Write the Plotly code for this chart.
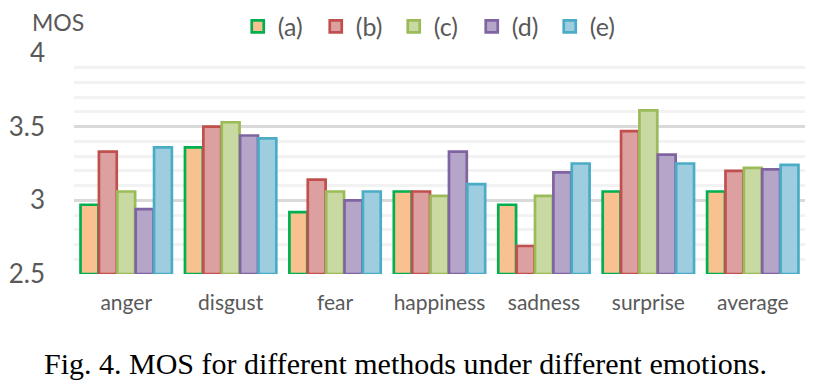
import plotly.graph_objects as go

categories = ["anger", "disgust", "fear", "happiness", "sadness", "surprise", "average"]
series_names = ["(a)", "(b)", "(c)", "(d)", "(e)"]
vals_a = [2.97, 3.36, 2.92, 3.06, 2.97, 3.06, 3.06]
vals_b = [3.33, 3.50, 3.14, 3.06, 2.69, 3.47, 3.20]
vals_c = [3.06, 3.53, 3.06, 3.03, 3.03, 3.61, 3.22]
vals_d = [2.94, 3.44, 3.00, 3.33, 3.19, 3.31, 3.21]
vals_e = [3.36, 3.42, 3.06, 3.11, 3.25, 3.25, 3.24]
y_ticks = [2.5, 3, 3.5, 4]
y_tick_labels = ["2.5", "3", "3.5", "4"]
baseline = 2.5

fills = ["#F9C18F", "#DCA0A0", "#C8D9A2", "#B4A5C9", "#9FCDE0"]
borders = ["#00B050", "#C0504D", "#9BBB59", "#8064A2", "#4BACC6"]

fig = go.Figure()
for name, vals, fc, bc in zip(series_names, [vals_a, vals_b, vals_c, vals_d, vals_e], fills, borders):
    fig.add_trace(go.Bar(
        x=categories, y=[v - baseline for v in vals], name=name, base=baseline,
        customdata=vals, hovertemplate="%{x}: %{customdata}<extra>" + name + "</extra>",
        marker=dict(color=fc, line=dict(color=bc, width=2.7)),
    ))

grey = "#595959"
fig.update_layout(
    width=819, height=391,
    margin=dict(l=66, r=22, t=45, b=125, autoexpand=False),
    plot_bgcolor="white", paper_bgcolor="white",
    barmode="group", bargap=0.12, bargroupgap=0.03,
    font=dict(family="Lato", color=grey),
    showlegend=True,
    legend=dict(orientation="h", x=0.224, xanchor="left", y=1.119, yanchor="middle",
                font=dict(size=25, color=grey), itemwidth=30, traceorder="normal",
                entrywidth=33, entrywidthmode="pixels",
                bgcolor="rgba(0,0,0,0)"),
    xaxis=dict(showgrid=False, showline=False, ticks="", tickfont=dict(size=21, color=grey),
               ticklabelstandoff=14),
    yaxis=dict(range=[2.5, 4.0], tickvals=y_ticks, ticktext=y_tick_labels,
               showgrid=True, gridcolor="#D9D9D9", gridwidth=3,
               zeroline=False, showline=False, ticks="",
               tickfont=dict(size=26, color=grey), ticklabelstandoff=28,
               minor=dict(dtick=0.1, showgrid=True, gridcolor="#F2F2F2", gridwidth=2.5)),
    annotations=[
        dict(text="MOS", xref="paper", yref="paper", x=-0.060, y=1.142, xanchor="left",
             yanchor="middle", showarrow=False, font=dict(size=23, color=grey)),
        dict(text="Fig. 4. MOS for different methods under different emotions.",
             xref="paper", yref="paper", x=0.4535, y=-0.405, xanchor="center", yanchor="middle",
             showarrow=False, font=dict(family="Liberation Serif", size=30, color="black")),
    ],
)
fig.write_html("out.html")
